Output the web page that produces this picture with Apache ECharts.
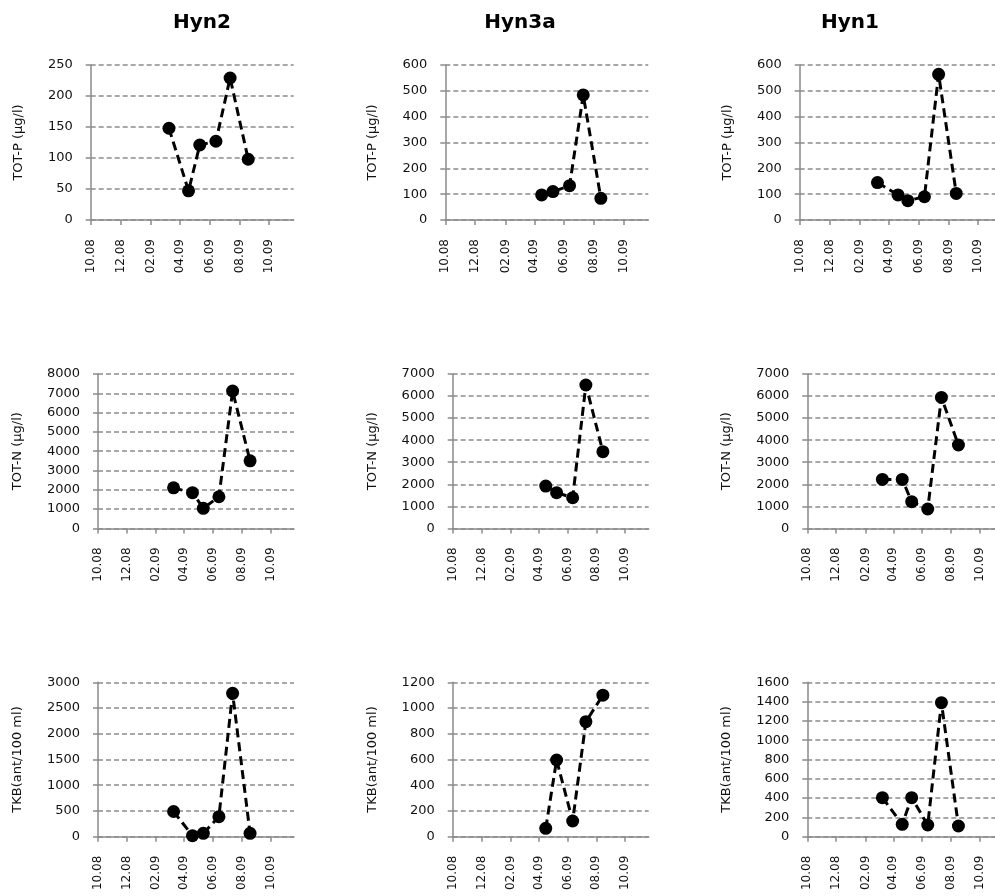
<!DOCTYPE html>
<html><head><meta charset="utf-8">
<script src="https://cdn.jsdelivr.net/npm/echarts@6/dist/echarts.min.js"></script>
<style>html,body{margin:0;padding:0;background:#fff}#c{width:995px;height:896px}</style>
</head><body><div id="c"></div>
<script>
// ---- data ----
const sites = ['Hyn2', 'Hyn3a', 'Hyn1'];
const params = ['TOT-P (µg/l)', 'TOT-N (µg/l)', 'TKB(ant/100 ml)'];
const tickDates = ['2008-10-01', '2008-12-01', '2009-02-01', '2009-04-01', '2009-06-01', '2009-08-01', '2009-10-01'];
const tickLabels = ['10.08', '12.08', '02.09', '04.09', '06.09', '08.09', '10.09'];
const axisStart = '2008-10-01';
const axisEnd = '2009-11-20';
const datesHyn2 = ['2009-03-10', '2009-04-19', '2009-05-12', '2009-06-14', '2009-07-13', '2009-08-19'];
const datesHyn3a = ['2009-04-16', '2009-05-09', '2009-06-12', '2009-07-10', '2009-08-15'];
const datesHyn1 = ['2009-03-09', '2009-04-20', '2009-05-10', '2009-06-13', '2009-07-12', '2009-08-17'];
const totP_Hyn2 = [148, 47, 121, 127, 229, 98];
const totP_Hyn3a = [97, 110, 133, 484, 84];
const totP_Hyn1 = [145, 97, 75, 90, 564, 103];
const totN_Hyn2 = [2100, 1850, 1040, 1640, 7120, 3500];
const totN_Hyn3a = [1920, 1620, 1390, 6500, 3480];
const totN_Hyn1 = [2220, 2220, 1210, 880, 5940, 3780];
const tkb_Hyn2 = [490, 20, 65, 390, 2785, 65];
const tkb_Hyn3a = [65, 596, 122, 894, 1100];
const tkb_Hyn1 = [404, 128, 404, 121, 1389, 111];
const yMax = [[250, 600, 600], [8000, 7000, 7000], [3000, 1200, 1600]];
const yStep = [[50, 100, 100], [1000, 1000, 1000], [500, 200, 200]];

const siteDates = [datesHyn2, datesHyn3a, datesHyn1];
const values = [
  [totP_Hyn2, totP_Hyn3a, totP_Hyn1],
  [totN_Hyn2, totN_Hyn3a, totN_Hyn1],
  [tkb_Hyn2, tkb_Hyn3a, tkb_Hyn1]
];

// ---- layout ----
const ts = s => Date.parse(s + 'T00:00:00Z');
const tickTs = tickDates.map(ts);
const rowTop = [65, 374, 682.3];
const rowH = [155, 154.4, 154.4];
const colLeft = [[90.7, 445.3, 799.7], [98, 452.7, 807.3], [98, 452.7, 807.3]];
const rowW = [203, 196, 196];
const nameGapRow = [66, 74, 74];
const titleX = [197, 515, 845];
const font = 'DejaVu Sans';

const grids = [], xAxes = [], yAxes = [], series = [];
for (let r = 0; r < 3; r++) {
  for (let c = 0; c < 3; c++) {
    const i = r * 3 + c;
    grids.push({ left: colLeft[r][c], top: rowTop[r], width: rowW[r], height: rowH[r], outerBoundsMode: 'none', containLabel: false });
    xAxes.push({
      type: 'value', gridIndex: i, min: ts(axisStart), max: ts(axisEnd),
      axisLine: { show: true, onZero: false, lineStyle: { color: '#8a8a8a', width: 1.5 } },
      axisTick: { show: true, length: 5, customValues: tickTs, lineStyle: { color: '#8a8a8a', width: 1.5 } },
      axisLabel: {
        customValues: tickTs, rotate: 90, margin: 19, color: '#111', fontFamily: font, fontSize: 12,
        formatter: v => tickLabels[tickTs.indexOf(v)] || ''
      },
      splitLine: { show: false }
    });
    yAxes.push({
      type: 'value', gridIndex: i, min: 0, max: yMax[r][c], interval: yStep[r][c],
      name: params[r], nameLocation: 'middle', nameRotate: 90, nameGap: nameGapRow[r],
      nameTextStyle: { fontFamily: font, fontSize: 13, color: '#111' },
      axisLine: { show: true, lineStyle: { color: '#8a8a8a', width: 1.5 } },
      axisTick: { show: true, length: 5, lineStyle: { color: '#8a8a8a', width: 1.5 } },
      axisLabel: { margin: 18, color: '#111', fontFamily: font, fontSize: 13, formatter: v => String(v) },
      splitLine: { show: true, lineStyle: { color: '#8c8c8c', width: 1.5, type: [5, 3] } }
    });
    series.push({
      type: 'line', xAxisIndex: i, yAxisIndex: i,
      data: siteDates[c].map((d, k) => [ts(d), values[r][c][k]]),
      symbol: 'circle', symbolSize: 13, showSymbol: true,
      lineStyle: { color: '#000', width: 3, type: [9, 5] },
      itemStyle: { color: '#000' },
      animation: false
    });
  }
}

const chart = echarts.init(document.getElementById('c'), null, { renderer: 'canvas' });
chart.setOption({
  backgroundColor: '#fff',
  animation: false,
  title: sites.map((s, c) => ({
    text: s, left: titleX[c], top: 8, textAlign: 'center',
    textStyle: { fontFamily: font, fontWeight: 'bold', fontSize: 20, color: '#000' }
  })),
  grid: grids, xAxis: xAxes, yAxis: yAxes, series: series
});
</script></body></html>
